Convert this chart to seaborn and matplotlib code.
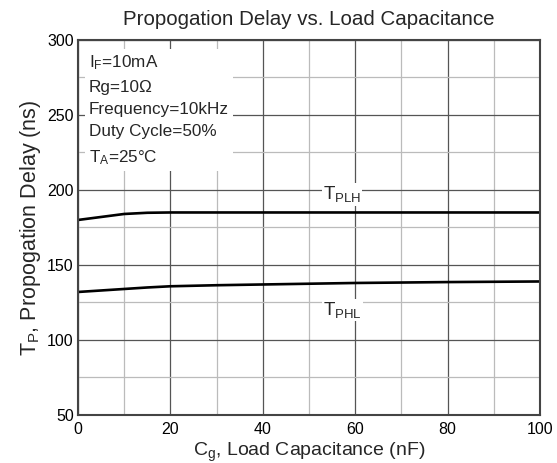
import matplotlib
matplotlib.use("Agg")
import matplotlib.pyplot as plt
import seaborn as sns
import pandas as pd

cap_nf = [0, 5, 10, 15, 20, 30, 40, 50, 60, 70, 80, 90, 100]
tplh = [180, 182, 184, 184.8, 185, 185, 185, 185, 185, 185, 185, 185, 185]
tphl = [132, 133, 134, 135, 135.8, 136.5, 137, 137.5, 138, 138.3, 138.6, 138.8, 139]
xticks = [0, 20, 40, 60, 80, 100]
yticks = [50, 100, 150, 200, 250, 300]

sns.set_theme(style="white")
plt.rcParams['font.family'] = ['Liberation Sans', 'DejaVu Sans']
plt.rcParams['mathtext.fontset'] = 'custom'
plt.rcParams['mathtext.rm'] = 'Liberation Sans'
plt.rcParams['mathtext.it'] = 'Liberation Sans'

df = pd.DataFrame({"x": cap_nf * 2, "y": tplh + tphl,
                   "s": ["PLH"] * len(cap_nf) + ["PHL"] * len(cap_nf)})

fig = plt.figure(figsize=(5.57, 4.63), dpi=100)
ax = fig.add_axes([0.140, 0.1037, 0.8295, 0.81])

ax.set_xlim(0, 100)
ax.set_ylim(50, 300)
ax.set_xticks(xticks)
ax.set_yticks(yticks)
ax.set_xticks([10, 30, 50, 70, 90], minor=True)
ax.set_yticks([75, 125, 175, 225, 275], minor=True)
ax.grid(which='major', color='#555555', lw=0.9)
ax.grid(which='minor', color='#bbbbbb', lw=0.9)
ax.set_axisbelow(True)

sns.lineplot(data=df, x="x", y="y", units="s", estimator=None, color='black',
             lw=1.9, ax=ax, legend=False)

for s in ax.spines.values():
    s.set_color('#444444')
    s.set_linewidth(1.5)
ax.tick_params(axis='both', which='both', length=0, labelsize=11.5, colors='black')
ax.tick_params(axis='x', pad=5)
ax.tick_params(axis='y', pad=3)

ax.set_title("Propogation Delay vs. Load Capacitance", fontsize=14.8, pad=11)
ax.set_xlabel(r"C$_\mathregular{g}$, Load Capacitance (nF)", fontsize=14, labelpad=3)
ax.set_ylabel(r"T$_\mathregular{P}$, Propogation Delay (ns)", fontsize=15.5, labelpad=3)

info = ("I$_\\mathregular{F}$=10mA\nRg=10\u03a9\nFrequency=10kHz\nDuty Cycle=50%\n"
        "T$_\\mathregular{A}$=25\u00b0C")
ax.text(2.4, 291, info, fontsize=12.3, va='top', ha='left', linespacing=1.62,
        bbox=dict(facecolor='white', edgecolor='none', pad=3), zorder=1.5)

ax.text(53, 197, r"T$_\mathregular{PLH}$", fontsize=13.5, ha='left', va='center',
        bbox=dict(facecolor='white', edgecolor='none', pad=1), zorder=1.5)
ax.text(53, 120, r"T$_\mathregular{PHL}$", fontsize=13.5, ha='left', va='center',
        bbox=dict(facecolor='white', edgecolor='none', pad=1), zorder=1.5)

fig.savefig("out.png", dpi=100)
